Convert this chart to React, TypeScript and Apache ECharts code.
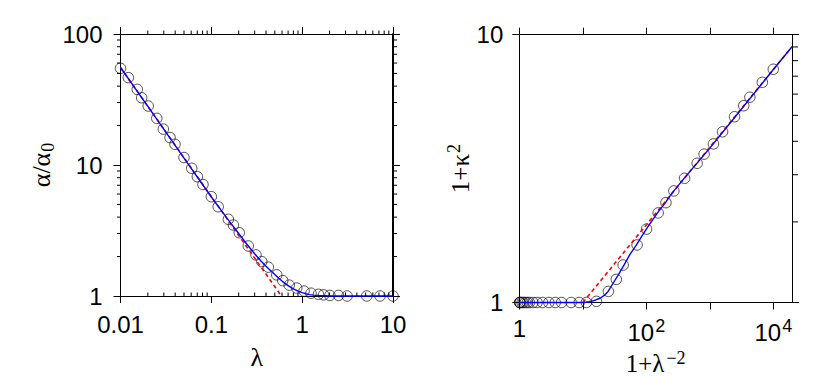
import React, { useEffect, useRef } from 'react';
import * as echarts from 'echarts';

// ---------- data ----------
const LAMBDA = [0.01, 0.0122, 0.0153, 0.0171, 0.0202, 0.0251, 0.0296, 0.0351, 0.0398, 0.05, 0.0608, 0.0702, 0.0809, 0.1, 0.119, 0.154, 0.175, 0.203, 0.255, 0.31, 0.359, 0.424, 0.525, 0.611, 0.721, 0.871, 1.05, 1.25, 1.51, 1.72, 2.02, 2.51, 3.12, 5.14, 7.19, 10];
const ALPHA_RATIO = [54.7, 46.4, 37.8, 32.6, 28.2, 22.7, 18.8, 16.2, 14.4, 11.4, 9.44, 8.14, 7.1, 5.73, 4.8, 3.85, 3.48, 3.04, 2.41, 2.06, 1.83, 1.66, 1.45, 1.31, 1.21, 1.15, 1.09, 1.05, 1.03, 1.02, 1.01, 1.01, 1.0, 1.0, 1.0, 1.0];

const LEFT_FIT_X = [0.01, 0.02, 0.05, 0.1, 0.15, 0.2, 0.25, 0.3, 0.35, 0.4, 0.45, 0.5, 0.55, 0.6, 0.7, 0.8, 0.9, 1.0, 1.1, 1.2, 1.35, 1.5, 2, 10];
const LEFT_FIT_Y = [55.5, 28, 11.3, 5.7, 3.9, 3.0, 2.45, 2.1, 1.86, 1.69, 1.56, 1.46, 1.37, 1.3, 1.2, 1.135, 1.09, 1.06, 1.04, 1.025, 1.015, 1.01, 1.0, 1.0];
const LEFT_ASYM_X = [0.01, 0.59];
const LEFT_ASYM_Y = [55.5, 1];

const ONE_PLUS_INV_L2 = [10001, 6720, 4273, 3421, 2452, 1588, 1142, 813, 632, 401, 271.5, 204, 153.8, 101, 71.6, 43.2, 33.7, 25.3, 16.4, 11.4, 8.76, 6.56, 4.63, 3.68, 2.92, 2.32, 1.907, 1.64, 1.439, 1.338, 1.245, 1.159, 1.103, 1.038, 1.019, 1.01];
const ONE_PLUS_K2 = [7.43, 6.64, 5.84, 5.43, 4.94, 4.34, 3.91, 3.58, 3.31, 2.91, 2.61, 2.36, 2.16, 1.88, 1.64, 1.38, 1.22, 1.1, 1.01, 1.0, 1.0, 1.0, 1.0, 1.0, 1.0, 1.0, 1.0, 1.0, 1.0, 1.0, 1.0, 1.0, 1.0, 1.0, 1.0, 1.0];

const RIGHT_FIT_X = [1, 5, 10, 11, 12.5, 14, 16, 18.7, 22, 25, 30, 37, 44.5, 55, 70, 85, 100, 125, 150, 200, 250, 400, 1000, 3000, 10000, 19700];
const RIGHT_FIT_Y = [1, 1, 1, 1.002, 1.006, 1.012, 1.022, 1.037, 1.065, 1.1, 1.18, 1.28, 1.38, 1.51, 1.64, 1.77, 1.88, 2.03, 2.16, 2.36, 2.55, 2.92, 3.77, 5.2, 7.41, 9.02];
const RIGHT_ASYM_X = [10, 19700];
const RIGHT_ASYM_Y = [1, 9.02];

// ---------- axes ----------
const LEFT_X_RANGE = [0.01, 10];
const LEFT_Y_RANGE = [1, 100];
const RIGHT_X_RANGE = [1, 19700];
const RIGHT_Y_RANGE = [1, 10];

const LEFT_X_MAJOR = [0.01, 0.1, 1, 10];
const LEFT_X_LABELS = ['0.01', '0.1', '1', '10'];
const LEFT_X_MINOR = [0.02, 0.03, 0.04, 0.05, 0.06, 0.07, 0.08, 0.09, 0.2, 0.3, 0.4, 0.5, 0.6, 0.7, 0.8, 0.9, 2, 3, 4, 5, 6, 7, 8, 9];
const LEFT_Y_MAJOR = [1, 10, 100];
const LEFT_Y_LABELS = ['1', '10', '100'];
const LEFT_Y_MINOR = [2, 3, 4, 5, 6, 7, 8, 9, 20, 30, 40, 50, 60, 70, 80, 90];

const RIGHT_X_MAJOR = [1, 10, 100, 1000, 10000];
const RIGHT_X_LABEL_VALUES = [1, 100, 10000];
const RIGHT_X_LABELS = ['1', '10{sup|2}', '10{sup|4}'];
const RIGHT_Y_MAJOR = [1, 10];
const RIGHT_Y_LABELS = ['1', '10'];
const RIGHT_Y_MINOR = [2, 3, 4, 5, 6, 7, 8, 9];

const SANS = 'Arial';
const SERIF = "'Liberation Serif', 'Times New Roman', serif";

function nearest(values: number[], v: number): number {
  let best = 0;
  let bd = Infinity;
  values.forEach((x, i) => {
    const d = Math.abs(Math.log10(x) - Math.log10(v));
    if (d < bd) {
      bd = d;
      best = i;
    }
  });
  return best;
}

const zip = (a: number[], b: number[]) => a.map((x, i) => [x, b[i]]);

function minorSeries(xi: number, yi: number, pts: number[][], dx: number, dy: number) {
  return {
    type: 'custom',
    xAxisIndex: xi,
    yAxisIndex: yi,
    clip: false,
    silent: true,
    z: 5,
    data: pts,
    renderItem: (_p: any, api: any) => {
      const c = api.coord([api.value(0), api.value(1)]);
      return {
        type: 'line',
        shape: { x1: c[0], y1: c[1], x2: c[0] + dx, y2: c[1] + dy },
        style: { stroke: '#000', lineWidth: 1 },
      };
    },
  };
}

function frameAxis(extra: any, width = 1) {
  return {
    type: 'log',
    logBase: 10,
    axisLine: { show: true, onZero: false, lineStyle: { color: '#000', width } },
    splitLine: { show: false },
    minorTick: { show: false },
    ...extra,
  };
}

export default function App() {
  const ref = useRef<HTMLDivElement>(null);
  useEffect(() => {
    if (!ref.current) return;
    const chart = echarts.init(ref.current, undefined, { renderer: 'svg' });
    const tickBase = { show: true, inside: false, length: 7, lineStyle: { color: '#000', width: 1 } };
    const circleStyle = { color: 'rgba(0,0,0,0)', borderColor: '#111', borderWidth: 0.9 };
    const option: any = {
      animation: false,
      backgroundColor: '#fff',
      grid: [
        { left: 120.5, top: 34, width: 272.5, height: 262, outerBoundsMode: 'none' },
        { left: 519.3, top: 34.7, width: 272.7, height: 267.8, outerBoundsMode: 'none' },
      ],
      xAxis: [
        frameAxis({
          gridIndex: 0, position: 'bottom', min: LEFT_X_RANGE[0], max: LEFT_X_RANGE[1],
          axisTick: { ...tickBase, customValues: LEFT_X_MAJOR },
          axisLabel: {
            customValues: LEFT_X_MAJOR, showMinLabel: true, showMaxLabel: true,
            margin: 16, fontSize: 24, fontFamily: SANS, color: '#000',
            formatter: (v: number) => LEFT_X_LABELS[nearest(LEFT_X_MAJOR, v)],
          },
          name: 'λ', nameLocation: 'middle', nameGap: 48,
          nameTextStyle: { fontFamily: SERIF, fontSize: 26, color: '#000' },
        }),
        frameAxis({
          gridIndex: 0, position: 'top', min: LEFT_X_RANGE[0], max: LEFT_X_RANGE[1],
          axisTick: { ...tickBase, customValues: LEFT_X_MAJOR },
          axisLabel: { show: false },
        }),
        frameAxis({
          gridIndex: 1, position: 'bottom', min: RIGHT_X_RANGE[0], max: RIGHT_X_RANGE[1],
          axisTick: { ...tickBase, customValues: RIGHT_X_MAJOR },
          axisLabel: {
            customValues: RIGHT_X_LABEL_VALUES, showMinLabel: true, showMaxLabel: true,
            margin: 14, fontSize: 24, fontFamily: SANS, color: '#000',
            formatter: (v: number) => RIGHT_X_LABELS[nearest(RIGHT_X_LABEL_VALUES, v)],
            rich: { sup: { fontSize: 18, fontFamily: SANS, color: '#000', padding: [0, 0, 14, 1] } },
          },
          name: '1+λ{sup|−2}', nameLocation: 'middle', nameGap: 43,
          nameTextStyle: {
            fontFamily: SERIF, fontSize: 25, color: '#000',
            rich: { sup: { fontFamily: SERIF, fontSize: 18, color: '#000', padding: [0, 0, 10, 2] } },
          },
        }),
        frameAxis({
          gridIndex: 1, position: 'top', min: RIGHT_X_RANGE[0], max: RIGHT_X_RANGE[1],
          axisTick: { ...tickBase, customValues: RIGHT_X_MAJOR },
          axisLabel: { show: false },
        }),
      ],
      yAxis: [
        frameAxis({
          gridIndex: 0, position: 'left', min: LEFT_Y_RANGE[0], max: LEFT_Y_RANGE[1],
          axisTick: { ...tickBase, customValues: LEFT_Y_MAJOR },
          axisLabel: {
            customValues: LEFT_Y_MAJOR, showMinLabel: true, showMaxLabel: true,
            margin: 18, fontSize: 24, fontFamily: SANS, color: '#000',
            formatter: (v: number) => LEFT_Y_LABELS[nearest(LEFT_Y_MAJOR, v)],
          },
          name: 'α/α{sub|0}', nameLocation: 'middle', nameGap: 64, nameRotate: 90,
          nameTextStyle: {
            fontFamily: SERIF, fontSize: 26, color: '#000',
            rich: { sub: { fontFamily: SERIF, fontSize: 18, color: '#000', padding: [12, 0, 0, 1] } },
          },
        }),
        frameAxis({
          gridIndex: 0, position: 'right', min: LEFT_Y_RANGE[0], max: LEFT_Y_RANGE[1],
          axisTick: { ...tickBase, customValues: LEFT_Y_MAJOR },
          axisLabel: { show: false },
        }, 2),
        frameAxis({
          gridIndex: 1, position: 'left', min: RIGHT_Y_RANGE[0], max: RIGHT_Y_RANGE[1],
          axisTick: { ...tickBase, customValues: RIGHT_Y_MAJOR },
          axisLabel: {
            customValues: RIGHT_Y_MAJOR, showMinLabel: true, showMaxLabel: true,
            margin: 16, fontSize: 24, fontFamily: SANS, color: '#000',
            formatter: (v: number) => RIGHT_Y_LABELS[nearest(RIGHT_Y_MAJOR, v)],
          },
          name: '1+κ{sup|2}', nameLocation: 'middle', nameGap: 36, nameRotate: 90,
          nameTextStyle: {
            fontFamily: SERIF, fontSize: 25, color: '#000',
            rich: { sup: { fontFamily: SERIF, fontSize: 18, color: '#000', padding: [0, 0, 12, 1] } },
          },
        }),
        frameAxis({
          gridIndex: 1, position: 'right', min: RIGHT_Y_RANGE[0], max: RIGHT_Y_RANGE[1],
          axisTick: { ...tickBase, customValues: RIGHT_Y_MAJOR },
          axisLabel: { show: false },
        }),
      ],
      series: [
        // minor ticks, left panel
        minorSeries(0, 0, LEFT_X_MINOR.map((v) => [v, LEFT_Y_RANGE[0]]), 0, -3.5),
        minorSeries(0, 0, LEFT_X_MINOR.map((v) => [v, LEFT_Y_RANGE[1]]), 0, -3.5),
        minorSeries(0, 0, LEFT_Y_MINOR.map((v) => [LEFT_X_RANGE[0], v]), -3.5, 0),
        minorSeries(0, 0, LEFT_Y_MINOR.map((v) => [LEFT_X_RANGE[1], v]), 4, 0),
        // minor ticks, right panel
        minorSeries(2, 2, RIGHT_Y_MINOR.map((v) => [RIGHT_X_RANGE[1], v]), 6, 0),
        // left panel data
        {
          type: 'scatter', xAxisIndex: 0, yAxisIndex: 0, clip: false, z: 2,
          symbol: 'circle', symbolSize: 10.5, itemStyle: circleStyle,
          data: zip(LAMBDA, ALPHA_RATIO),
        },
        {
          type: 'line', xAxisIndex: 0, yAxisIndex: 0, clip: false, z: 3,
          symbol: 'none', showSymbol: false,
          lineStyle: { color: '#ff0000', width: 1.6, type: [4, 3] },
          data: zip(LEFT_ASYM_X, LEFT_ASYM_Y),
        },
        {
          type: 'line', xAxisIndex: 0, yAxisIndex: 0, clip: false, z: 4,
          symbol: 'none', showSymbol: false,
          lineStyle: { color: '#0000ff', width: 1.4 },
          data: zip(LEFT_FIT_X, LEFT_FIT_Y),
        },
        // right panel data
        {
          type: 'scatter', xAxisIndex: 2, yAxisIndex: 2, clip: false, z: 2,
          symbol: 'circle', symbolSize: 10.5, itemStyle: circleStyle,
          data: zip(ONE_PLUS_INV_L2, ONE_PLUS_K2),
        },
        {
          type: 'line', xAxisIndex: 2, yAxisIndex: 2, clip: false, z: 3,
          symbol: 'none', showSymbol: false,
          lineStyle: { color: '#ff0000', width: 1.6, type: [4, 3] },
          data: zip(RIGHT_ASYM_X, RIGHT_ASYM_Y),
        },
        {
          type: 'line', xAxisIndex: 2, yAxisIndex: 2, clip: false, z: 4,
          symbol: 'none', showSymbol: false,
          lineStyle: { color: '#0000ff', width: 1.4 },
          data: zip(RIGHT_FIT_X, RIGHT_FIT_Y),
        },
      ],
    };
    chart.setOption(option);
    return () => chart.dispose();
  }, []);
  return <div ref={ref} style={{ position: 'absolute', left: 0, top: 0, width: 830, height: 376 }} />;
}
